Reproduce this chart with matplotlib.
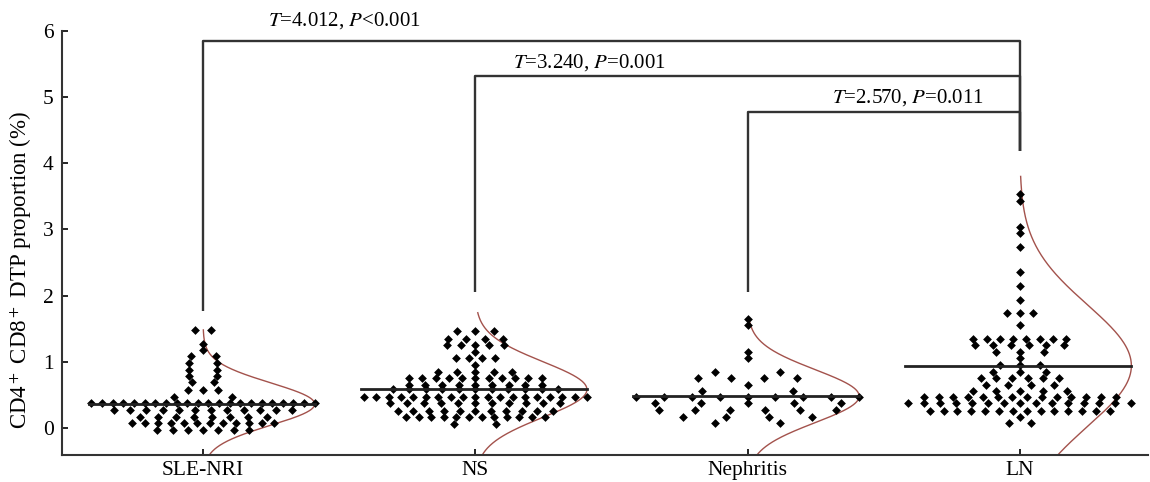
import matplotlib
matplotlib.use("Agg")
import matplotlib.pyplot as plt
import numpy as np

plt.rcParams['font.family'] = ['Liberation Serif', 'DejaVu Serif']
plt.rcParams['mathtext.fontset'] = 'stix'

groups = ["SLE-NRI", "NS", "Nephritis", "LN"]

# value levels (rows of dots) and how many dots sit on each row
sle_levels = [1.48, 1.27, 1.17, 1.08, 0.98, 0.88, 0.78, 0.69, 0.57, 0.47, 0.37, 0.27, 0.17, 0.07, -0.03]
sle_counts = [2, 1, 1, 2, 2, 2, 2, 2, 3, 2, 22, 12, 8, 12, 7]

ns_levels = [1.46, 1.35, 1.26, 1.15, 1.06, 0.95, 0.85, 0.75, 0.65, 0.58, 0.47, 0.37, 0.26, 0.17, 0.06]
ns_counts = [3, 4, 5, 1, 4, 1, 5, 11, 9, 11, 19, 11, 11, 12, 2]

neph_levels = [1.65, 1.56, 1.15, 1.06, 0.85, 0.75, 0.65, 0.56, 0.47, 0.37, 0.27, 0.17, 0.07]
neph_counts = [1, 1, 1, 1, 2, 4, 1, 2, 9, 5, 6, 4, 2]

ln_levels = [3.53, 3.43, 3.04, 2.94, 2.74, 2.35, 2.14, 1.94, 1.74, 1.55, 1.35, 1.26, 1.15, 1.06,
             0.95, 0.85, 0.75, 0.65, 0.56, 0.47, 0.37, 0.26, 0.17, 0.07]
ln_counts = [1, 1, 1, 1, 1, 1, 1, 1, 3, 1, 8, 6, 3, 1, 3, 3, 6, 4, 5, 14, 15, 14, 1, 2]

means = [0.36, 0.58, 0.48, 0.94]
sds = [0.32, 0.42, 0.40, 0.92]
curve_tops = [1.48, 1.74, 1.59, 3.80]

# comparisons: (left group, right group), bracket height, left leg end, label
comparisons = [(0, 3), (1, 3), (2, 3)]
bracket_heights = [5.85, 5.32, 4.77]
left_leg_ends = [1.76, 2.05, 2.05]
right_leg_end = 4.18
stat_labels = [r"$T$=4.012, $P$<0.001", r"$T$=3.240, $P$=0.001", r"$T$=2.570, $P$=0.011"]
label_x = [1.52, 2.42, 3.59]
label_y = [6.08, 5.45, 4.92]

all_levels = [sle_levels, ns_levels, neph_levels, ln_levels]
all_counts = [sle_counts, ns_counts, neph_counts, ln_counts]

fig = plt.figure(figsize=(11.5, 4.82), dpi=100)
ax = fig.add_axes([0.054, 0.056, 0.944, 0.880])

W = 0.41
pos = np.arange(1, 5)

for g in range(4):
    lv = np.array(all_levels[g])
    ct = np.array(all_counts[g])
    # local crowding decides how wide a row is spread
    local = np.array([ct[np.abs(lv - v) < 0.12].sum() for v in lv])
    dens = np.sqrt(ct * local)
    hw = W * np.minimum(1, dens / dens.max())
    xs, ys = [], []
    for v, n, h in zip(lv, ct, hw):
        if n == 1:
            xs.append(pos[g])
        else:
            xs.extend(pos[g] + np.linspace(-h, h, n))
        ys.extend([v] * n)
    ax.scatter(xs, ys, marker='D', s=20, color='black', linewidths=0, zorder=3)

    m, s = means[g], sds[g]
    yy = np.linspace(-0.45, curve_tops[g], 300)
    ax.plot(pos[g] + W * np.exp(-(yy - m) ** 2 / (2 * s ** 2)), yy,
            color='#a3524c', lw=1.0, zorder=2)
    ax.plot([pos[g] - W - 0.01, pos[g] + W], [m, m], color='#222222', lw=2.0, zorder=4)

for (a, b), h, le, lab, tx, ty in zip(comparisons, bracket_heights, left_leg_ends,
                                      stat_labels, label_x, label_y):
    ax.plot([pos[a], pos[a], pos[b], pos[b]], [le, h, h, right_leg_end],
            color='#333333', lw=1.7, solid_capstyle='butt', clip_on=False)
    ax.text(tx, ty, lab, ha='center', va='baseline', fontsize=15, clip_on=False)

ax.set_xlim(0.482, 4.47)
ax.set_ylim(-0.41, 6.0)
ax.set_xticks(pos)
ax.set_xticklabels(groups)
ax.set_yticks(range(0, 7))
ax.tick_params(direction='in', length=4, width=1.2, labelsize=15.5, pad=4)
ax.tick_params(axis='y', pad=6)
for sp in ['top', 'right']:
    ax.spines[sp].set_visible(False)
for sp in ['left', 'bottom']:
    ax.spines[sp].set_linewidth(1.5)
    ax.spines[sp].set_color('#333333')
ax.set_ylabel(r"CD4$^+$ CD8$^+$ DTP proportion (%)", fontsize=16.5)
ax.yaxis.set_label_coords(-0.026, 0.436)

fig.savefig("out.png", dpi=100)
